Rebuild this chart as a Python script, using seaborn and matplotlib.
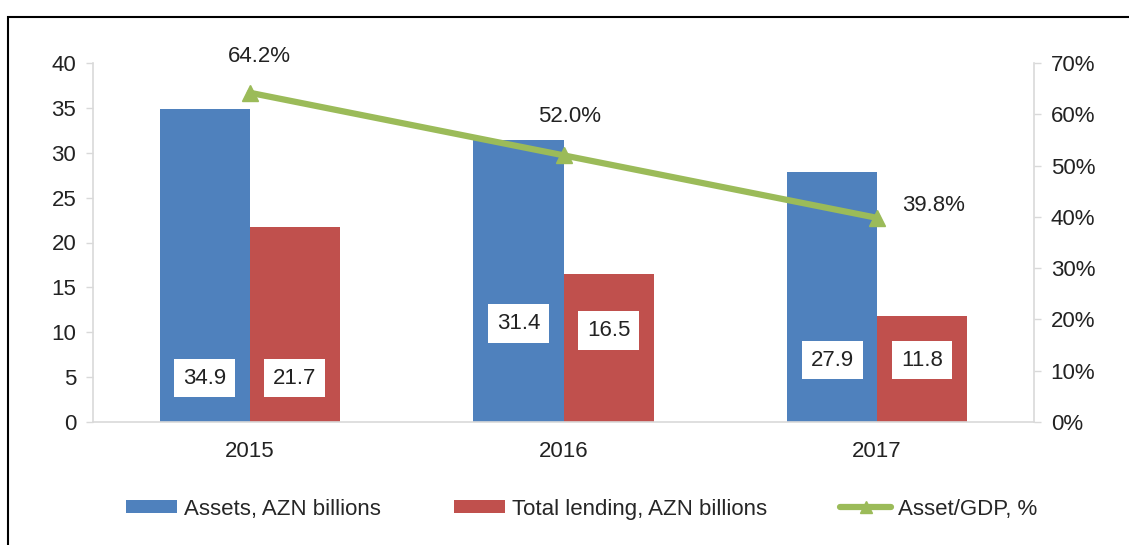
import matplotlib
matplotlib.use("Agg")
import matplotlib.pyplot as plt
import seaborn as sns
import pandas as pd
from matplotlib.patches import Rectangle
from matplotlib.lines import Line2D
from matplotlib.patches import Patch

years = ["2015", "2016", "2017"]
assets = [34.9, 31.4, 27.9]
lending = [21.7, 16.5, 11.8]
asset_gdp = [64.2, 52.0, 39.8]
series_names = ["Assets, AZN billions", "Total lending, AZN billions", "Asset/GDP, %"]

BLUE = "#4F81BD"
RED = "#C0504D"
GREEN = "#9BBB59"
GRID = "#D9D9D9"
TXT = "#222222"
FS = 16

sns.set_theme(style="white")
plt.rcParams["font.family"] = ["Liberation Sans", "DejaVu Sans"]

df = pd.DataFrame({
    "year": years * 2,
    "value": assets + lending,
    "series": [series_names[0]] * 3 + [series_names[1]] * 3,
})

fig = plt.figure(figsize=(11.29, 5.45), dpi=100)
ax = fig.add_axes([93 / 1129, 1 - 422 / 545, (1034 - 93) / 1129, (422 - 63) / 545])

sns.barplot(data=df, x="year", y="value", hue="series", palette=[BLUE, RED],
            width=0.574, saturation=1, ax=ax, legend=False)
for p in ax.patches:
    p.set_edgecolor("none")

ax.set_ylim(0, 40)
ax.set_xlim(-0.5, 2.5)
ax.set_yticks(range(0, 41, 5))
ax.set_xlabel("")
ax.set_ylabel("")
ax.tick_params(axis="y", labelsize=FS, colors=GRID, labelcolor=TXT, length=5, width=1, direction="out", left=True, pad=7)
ax.tick_params(axis="x", labelsize=FS, labelcolor=TXT, length=0, pad=14)
for s in ["top", "right"]:
    ax.spines[s].set_visible(False)
for s in ["left", "bottom"]:
    ax.spines[s].set_color(GRID)
    ax.spines[s].set_linewidth(1.2)

ax2 = ax.twinx()
ax2.plot(range(len(years)), asset_gdp, color=GREEN, lw=4.5, marker="^", markersize=11,
         markerfacecolor=GREEN, markeredgecolor=GREEN, zorder=5)
ax2.set_ylim(0, 70)
ax2.set_yticks(range(0, 71, 10))
ax2.set_yticklabels([f"{v}%" for v in range(0, 71, 10)])
ax2.tick_params(axis="y", labelsize=FS, colors=GRID, labelcolor=TXT, length=5, width=1, direction="out", right=True, pad=7)
for s in ["top", "left", "bottom"]:
    ax2.spines[s].set_visible(False)
ax2.spines["right"].set_color(GRID)
ax2.spines["right"].set_linewidth(1.2)
ax2.grid(False)
ax.grid(False)

# data labels in white boxes (label anchor heights, axis units)
box = dict(boxstyle="square,pad=0.4", facecolor="white", edgecolor="none")
assets_label_y = [4.9, 11.0, 6.9]
lending_label_y = [4.9, 10.2, 6.9]
off = 0.574 / 4
for i in range(len(years)):
    ax.text(i - off, assets_label_y[i], f"{assets[i]:.1f}", ha="center", va="center", fontsize=FS, color=TXT, bbox=box, zorder=6)
    ax.text(i + off, lending_label_y[i], f"{lending[i]:.1f}", ha="center", va="center", fontsize=FS, color=TXT, bbox=box, zorder=6)

pct_off = [(0.03, 7.0), (0.02, 7.6), (0.18, 2.5)]
for i, v in enumerate(asset_gdp):
    dx, dy = pct_off[i]
    ax2.text(i + dx, v + dy, f"{v:.1f}%", ha="center", va="center", fontsize=FS, color=TXT)

handles = [
    Patch(facecolor=BLUE, edgecolor="none"),
    Patch(facecolor=RED, edgecolor="none"),
    Line2D([0], [0], color=GREEN, lw=4.5, marker="^", markersize=8),
]
fig.legend(handles, series_names, loc="center", bbox_to_anchor=(0.515, 1 - 509 / 545), ncol=3,
           frameon=False, fontsize=FS, handlelength=2.3, handletextpad=0.3, columnspacing=3.3,
           handleheight=0.5)

# outer frame
fig.add_artist(Rectangle((8 / 1129, -0.05), 1.2, 1 - 17 / 545 + 0.05, transform=fig.transFigure,
                         fill=False, edgecolor="black", lw=1.5))

fig.savefig("out.png", dpi=100)
